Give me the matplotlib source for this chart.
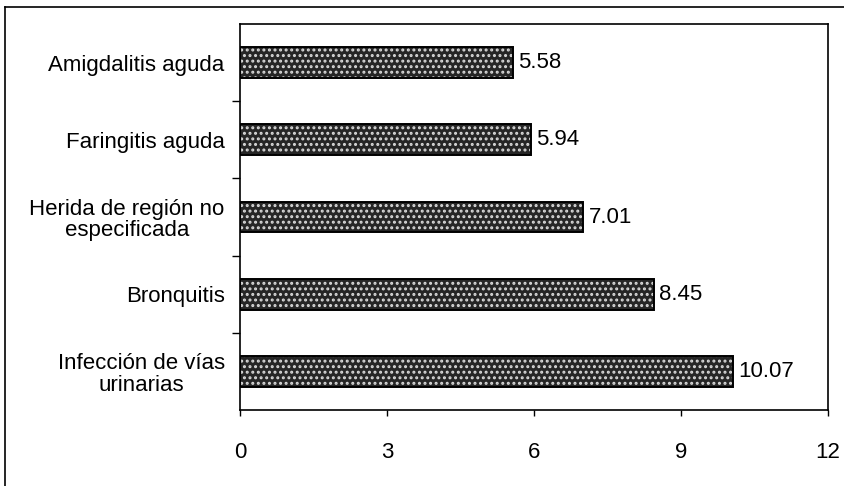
import matplotlib
matplotlib.use('Agg')
import matplotlib.pyplot as plt
from matplotlib.lines import Line2D

categories = ['Amigdalitis aguda', 'Faringitis aguda', 'Herida de región no\nespecificada',
              'Bronquitis', 'Infección de vías\nurinarias']
values = [5.58, 5.94, 7.01, 8.45, 10.07]
x_ticks = [0, 3, 6, 9, 12]

plt.rcParams['font.family'] = ['Liberation Sans', 'DejaVu Sans']
plt.rcParams['hatch.linewidth'] = 1.4

fig = plt.figure(figsize=(8.45, 4.86), dpi=100)
ax = fig.add_axes([240 / 845, 76 / 486, 588 / 845, 386 / 486])

pos = list(range(len(categories)))
# patterned fill first, then a plain black outline on top
ax.barh(pos, values, height=0.4, color='#262626', edgecolor='#d8d8d8', hatch='...', linewidth=0)
ax.barh(pos, values, height=0.4, fill=False, edgecolor='black', linewidth=1.4)

for p, v in zip(pos, values):
    ax.text(v + 0.1, p, f'{v:.2f}', va='center', ha='left', fontsize=16)

ax.set_xlim(0, 12)
ax.set_ylim(len(categories) - 0.5, -0.5)
ax.set_xticks(x_ticks)
ax.set_xticklabels([str(t) for t in x_ticks])
ax.set_yticks(pos)
ax.set_yticklabels(categories, multialignment='center', linespacing=1.05)
ax.set_yticks([p + 0.5 for p in pos[:-1]], minor=True)

ax.tick_params(axis='x', direction='out', length=4, width=1, pad=19, labelsize=16)
ax.tick_params(axis='y', which='major', length=0, pad=11, labelsize=16)
ax.tick_params(axis='y', which='minor', direction='out', length=6, width=1)

for s in ax.spines.values():
    s.set_linewidth(1.2)

# outer chart border (only left and top visible in the picture)
fig.add_artist(Line2D([5 / 845, 5 / 845], [0, 1 - 7 / 486], color='black', lw=1.2))
fig.add_artist(Line2D([5 / 845, 1], [1 - 7 / 486, 1 - 7 / 486], color='black', lw=1.2))

fig.savefig('out.png', dpi=100)
